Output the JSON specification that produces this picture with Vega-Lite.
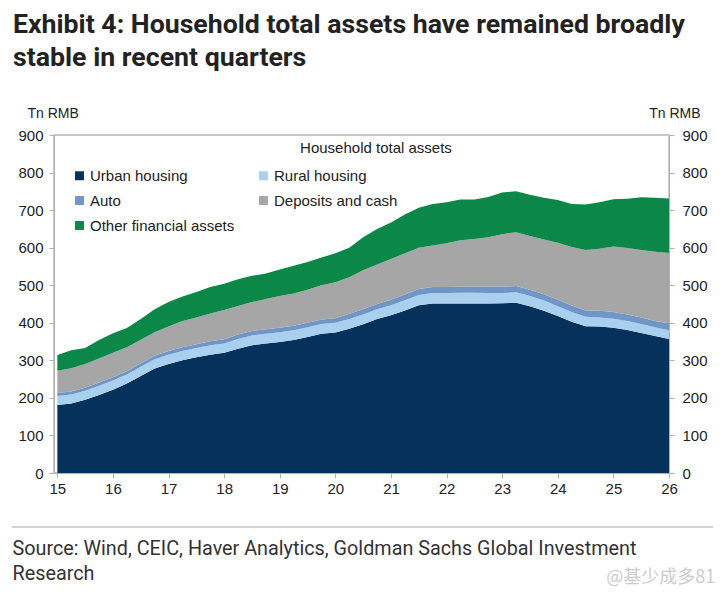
{
  "$schema": "https://vega.github.io/schema/vega-lite/v6.json",
  "width": 615,
  "height": 338,
  "autosize": {"type": "none"},
  "padding": {"left": 54, "top": 135, "right": 56, "bottom": 127},
  "background": "white",
  "title": {
    "text": ["Exhibit 4: Household total assets have remained broadly", "stable in recent quarters"],
    "anchor": "start",
    "frame": "group",
    "dx": -41,
    "offset": 34,
    "font": "Roboto",
    "fontSize": 26.7,
    "fontWeight": "bold",
    "color": "#222222",
    "lineHeight": 33
  },
  "config": {
    "font": "Liberation Sans",
    "view": {"stroke": "#b8b8b8", "strokeWidth": 1.5},
    "axis": {"grid": false, "domainColor": "#b0b0b0", "tickColor": "#b0b0b0", "labelColor": "#222222", "labelFontSize": 15, "labelFont": "Liberation Sans", "titleFont": "Liberation Sans", "titleFontWeight": "normal", "titleColor": "#222222", "titleFontSize": 14}
  },
  "layer": [
    {
      "data": {"values": [
    {"t":15.00,"s":"Urban housing","v":181},{"t":15.00,"s":"Rural housing","v":24},{"t":15.00,"s":"Auto","v":8},{"t":15.00,"s":"Deposits and cash","v":59},{"t":15.00,"s":"Other financial assets","v":42},
    {"t":15.25,"s":"Urban housing","v":185},{"t":15.25,"s":"Rural housing","v":24},{"t":15.25,"s":"Auto","v":8},{"t":15.25,"s":"Deposits and cash","v":62},{"t":15.25,"s":"Other financial assets","v":48},
    {"t":15.50,"s":"Urban housing","v":195},{"t":15.50,"s":"Rural housing","v":24},{"t":15.50,"s":"Auto","v":8},{"t":15.50,"s":"Deposits and cash","v":63},{"t":15.50,"s":"Other financial assets","v":43},
    {"t":15.75,"s":"Urban housing","v":208},{"t":15.75,"s":"Rural housing","v":24},{"t":15.75,"s":"Auto","v":9},{"t":15.75,"s":"Deposits and cash","v":64},{"t":15.75,"s":"Other financial assets","v":49},
    {"t":16.00,"s":"Urban housing","v":222},{"t":16.00,"s":"Rural housing","v":24},{"t":16.00,"s":"Auto","v":9},{"t":16.00,"s":"Deposits and cash","v":65},{"t":16.00,"s":"Other financial assets","v":52},
    {"t":16.25,"s":"Urban housing","v":238},{"t":16.25,"s":"Rural housing","v":24},{"t":16.25,"s":"Auto","v":9},{"t":16.25,"s":"Deposits and cash","v":64},{"t":16.25,"s":"Other financial assets","v":51},
    {"t":16.50,"s":"Urban housing","v":258},{"t":16.50,"s":"Rural housing","v":25},{"t":16.50,"s":"Auto","v":9},{"t":16.50,"s":"Deposits and cash","v":63},{"t":16.50,"s":"Other financial assets","v":55},
    {"t":16.75,"s":"Urban housing","v":278},{"t":16.75,"s":"Rural housing","v":25},{"t":16.75,"s":"Auto","v":9},{"t":16.75,"s":"Deposits and cash","v":63},{"t":16.75,"s":"Other financial assets","v":61},
    {"t":17.00,"s":"Urban housing","v":290},{"t":17.00,"s":"Rural housing","v":25},{"t":17.00,"s":"Auto","v":10},{"t":17.00,"s":"Deposits and cash","v":65},{"t":17.00,"s":"Other financial assets","v":65},
    {"t":17.25,"s":"Urban housing","v":300},{"t":17.25,"s":"Rural housing","v":25},{"t":17.25,"s":"Auto","v":10},{"t":17.25,"s":"Deposits and cash","v":70},{"t":17.25,"s":"Other financial assets","v":65},
    {"t":17.50,"s":"Urban housing","v":308},{"t":17.50,"s":"Rural housing","v":25},{"t":17.50,"s":"Auto","v":10},{"t":17.50,"s":"Deposits and cash","v":71},{"t":17.50,"s":"Other financial assets","v":68},
    {"t":17.75,"s":"Urban housing","v":315},{"t":17.75,"s":"Rural housing","v":25},{"t":17.75,"s":"Auto","v":11},{"t":17.75,"s":"Deposits and cash","v":74},{"t":17.75,"s":"Other financial assets","v":70},
    {"t":18.00,"s":"Urban housing","v":320},{"t":18.00,"s":"Rural housing","v":25},{"t":18.00,"s":"Auto","v":11},{"t":18.00,"s":"Deposits and cash","v":78},{"t":18.00,"s":"Other financial assets","v":70},
    {"t":18.25,"s":"Urban housing","v":331},{"t":18.25,"s":"Rural housing","v":26},{"t":18.25,"s":"Auto","v":12},{"t":18.25,"s":"Deposits and cash","v":76},{"t":18.25,"s":"Other financial assets","v":71},
    {"t":18.50,"s":"Urban housing","v":340},{"t":18.50,"s":"Rural housing","v":26},{"t":18.50,"s":"Auto","v":12},{"t":18.50,"s":"Deposits and cash","v":77},{"t":18.50,"s":"Other financial assets","v":70},
    {"t":18.75,"s":"Urban housing","v":345},{"t":18.75,"s":"Rural housing","v":26},{"t":18.75,"s":"Auto","v":12},{"t":18.75,"s":"Deposits and cash","v":80},{"t":18.75,"s":"Other financial assets","v":68},
    {"t":19.00,"s":"Urban housing","v":349},{"t":19.00,"s":"Rural housing","v":26},{"t":19.00,"s":"Auto","v":12},{"t":19.00,"s":"Deposits and cash","v":84},{"t":19.00,"s":"Other financial assets","v":71},
    {"t":19.25,"s":"Urban housing","v":354},{"t":19.25,"s":"Rural housing","v":26},{"t":19.25,"s":"Auto","v":12},{"t":19.25,"s":"Deposits and cash","v":86},{"t":19.25,"s":"Other financial assets","v":74},
    {"t":19.50,"s":"Urban housing","v":362},{"t":19.50,"s":"Rural housing","v":26},{"t":19.50,"s":"Auto","v":12},{"t":19.50,"s":"Deposits and cash","v":88},{"t":19.50,"s":"Other financial assets","v":74},
    {"t":19.75,"s":"Urban housing","v":371},{"t":19.75,"s":"Rural housing","v":26},{"t":19.75,"s":"Auto","v":12},{"t":19.75,"s":"Deposits and cash","v":91},{"t":19.75,"s":"Other financial assets","v":74},
    {"t":20.00,"s":"Urban housing","v":374},{"t":20.00,"s":"Rural housing","v":26},{"t":20.00,"s":"Auto","v":12},{"t":20.00,"s":"Deposits and cash","v":96},{"t":20.00,"s":"Other financial assets","v":77},
    {"t":20.25,"s":"Urban housing","v":384},{"t":20.25,"s":"Rural housing","v":26},{"t":20.25,"s":"Auto","v":14},{"t":20.25,"s":"Deposits and cash","v":97},{"t":20.25,"s":"Other financial assets","v":79},
    {"t":20.50,"s":"Urban housing","v":396},{"t":20.50,"s":"Rural housing","v":26},{"t":20.50,"s":"Auto","v":14},{"t":20.50,"s":"Deposits and cash","v":104},{"t":20.50,"s":"Other financial assets","v":88},
    {"t":20.75,"s":"Urban housing","v":410},{"t":20.75,"s":"Rural housing","v":26},{"t":20.75,"s":"Auto","v":14},{"t":20.75,"s":"Deposits and cash","v":105},{"t":20.75,"s":"Other financial assets","v":95},
    {"t":21.00,"s":"Urban housing","v":420},{"t":21.00,"s":"Rural housing","v":27},{"t":21.00,"s":"Auto","v":14},{"t":21.00,"s":"Deposits and cash","v":109},{"t":21.00,"s":"Other financial assets","v":97},
    {"t":21.25,"s":"Urban housing","v":433},{"t":21.25,"s":"Rural housing","v":27},{"t":21.25,"s":"Auto","v":15},{"t":21.25,"s":"Deposits and cash","v":110},{"t":21.25,"s":"Other financial assets","v":103},
    {"t":21.50,"s":"Urban housing","v":447},{"t":21.50,"s":"Rural housing","v":27},{"t":21.50,"s":"Auto","v":16},{"t":21.50,"s":"Deposits and cash","v":110},{"t":21.50,"s":"Other financial assets","v":106},
    {"t":21.75,"s":"Urban housing","v":451},{"t":21.75,"s":"Rural housing","v":28},{"t":21.75,"s":"Auto","v":16},{"t":21.75,"s":"Deposits and cash","v":111},{"t":21.75,"s":"Other financial assets","v":110},
    {"t":22.00,"s":"Urban housing","v":451},{"t":22.00,"s":"Rural housing","v":28},{"t":22.00,"s":"Auto","v":16},{"t":22.00,"s":"Deposits and cash","v":117},{"t":22.00,"s":"Other financial assets","v":109},
    {"t":22.25,"s":"Urban housing","v":451},{"t":22.25,"s":"Rural housing","v":29},{"t":22.25,"s":"Auto","v":16},{"t":22.25,"s":"Deposits and cash","v":124},{"t":22.25,"s":"Other financial assets","v":108},
    {"t":22.50,"s":"Urban housing","v":451},{"t":22.50,"s":"Rural housing","v":29},{"t":22.50,"s":"Auto","v":16},{"t":22.50,"s":"Deposits and cash","v":127},{"t":22.50,"s":"Other financial assets","v":105},
    {"t":22.75,"s":"Urban housing","v":451},{"t":22.75,"s":"Rural housing","v":28},{"t":22.75,"s":"Auto","v":17},{"t":22.75,"s":"Deposits and cash","v":132},{"t":22.75,"s":"Other financial assets","v":107},
    {"t":23.00,"s":"Urban housing","v":452},{"t":23.00,"s":"Rural housing","v":27},{"t":23.00,"s":"Auto","v":17},{"t":23.00,"s":"Deposits and cash","v":140},{"t":23.00,"s":"Other financial assets","v":111},
    {"t":23.25,"s":"Urban housing","v":453},{"t":23.25,"s":"Rural housing","v":28},{"t":23.25,"s":"Auto","v":17},{"t":23.25,"s":"Deposits and cash","v":143},{"t":23.25,"s":"Other financial assets","v":109},
    {"t":23.50,"s":"Urban housing","v":444},{"t":23.50,"s":"Rural housing","v":27},{"t":23.50,"s":"Auto","v":17},{"t":23.50,"s":"Deposits and cash","v":143},{"t":23.50,"s":"Other financial assets","v":110},
    {"t":23.75,"s":"Urban housing","v":432},{"t":23.75,"s":"Rural housing","v":27},{"t":23.75,"s":"Auto","v":17},{"t":23.75,"s":"Deposits and cash","v":146},{"t":23.75,"s":"Other financial assets","v":111},
    {"t":24.00,"s":"Urban housing","v":418},{"t":24.00,"s":"Rural housing","v":26},{"t":24.00,"s":"Auto","v":17},{"t":24.00,"s":"Deposits and cash","v":152},{"t":24.00,"s":"Other financial assets","v":114},
    {"t":24.25,"s":"Urban housing","v":403},{"t":24.25,"s":"Rural housing","v":26},{"t":24.25,"s":"Auto","v":17},{"t":24.25,"s":"Deposits and cash","v":156},{"t":24.25,"s":"Other financial assets","v":114},
    {"t":24.50,"s":"Urban housing","v":391},{"t":24.50,"s":"Rural housing","v":25},{"t":24.50,"s":"Auto","v":17},{"t":24.50,"s":"Deposits and cash","v":161},{"t":24.50,"s":"Other financial assets","v":121},
    {"t":24.75,"s":"Urban housing","v":390},{"t":24.75,"s":"Rural housing","v":24},{"t":24.75,"s":"Auto","v":18},{"t":24.75,"s":"Deposits and cash","v":165},{"t":24.75,"s":"Other financial assets","v":124},
    {"t":25.00,"s":"Urban housing","v":387},{"t":25.00,"s":"Rural housing","v":24},{"t":25.00,"s":"Auto","v":18},{"t":25.00,"s":"Deposits and cash","v":174},{"t":25.00,"s":"Other financial assets","v":126},
    {"t":25.25,"s":"Urban housing","v":381},{"t":25.25,"s":"Rural housing","v":24},{"t":25.25,"s":"Auto","v":17},{"t":25.25,"s":"Deposits and cash","v":177},{"t":25.25,"s":"Other financial assets","v":131},
    {"t":25.50,"s":"Urban housing","v":373},{"t":25.50,"s":"Rural housing","v":24},{"t":25.50,"s":"Auto","v":17},{"t":25.50,"s":"Deposits and cash","v":180},{"t":25.50,"s":"Other financial assets","v":140},
    {"t":25.75,"s":"Urban housing","v":365},{"t":25.75,"s":"Rural housing","v":23},{"t":25.75,"s":"Auto","v":17},{"t":25.75,"s":"Deposits and cash","v":184},{"t":25.75,"s":"Other financial assets","v":144},
    {"t":26.00,"s":"Urban housing","v":357},{"t":26.00,"s":"Rural housing","v":23},{"t":26.00,"s":"Auto","v":19},{"t":26.00,"s":"Deposits and cash","v":187},{"t":26.00,"s":"Other financial assets","v":145}
      ]},
      "transform": [
        {"calculate": "indexof(['Urban housing', 'Rural housing', 'Auto', 'Deposits and cash', 'Other financial assets'], datum.s)", "as": "k"}
      ],
      "mark": {"type": "area", "interpolate": "linear"},
      "encoding": {
        "x": {"field": "t", "type": "quantitative",
          "scale": {"domain": [14.94, 26], "nice": false, "zero": false},
          "axis": {"values": [15,16,17,18,19,20,21,22,23,24,25,26], "format": "d", "tickSize": 5, "labelPadding": 3, "labelFlush": false,
            "title": ["Source: Wind, CEIC, Haver Analytics, Goldman Sachs Global Investment", "Research"],
            "titleFont": "Roboto", "titleFontSize": 19.8, "titleColor": "#333333", "titleAlign": "left", "titleBaseline": "top",
            "titleX": -42, "titleY": 65, "titleLineHeight": 25}},
        "y": {"field": "v", "type": "quantitative", "stack": "zero",
          "scale": {"domain": [0, 900], "nice": false},
          "axis": {"orient": "left", "values": [0,100,200,300,400,500,600,700,800,900], "tickSize": 5, "labelPadding": 6,
            "title": "Tn RMB", "titleAngle": 0, "titleAlign": "left", "titleBaseline": "middle", "titleX": -27, "titleY": -22}},
        "order": {"field": "k", "type": "quantitative", "sort": "ascending"},
        "color": {"field": "s", "type": "nominal",
          "sort": ["Urban housing", "Rural housing", "Auto", "Deposits and cash", "Other financial assets"],
          "scale": {"domain": ["Urban housing", "Rural housing", "Auto", "Deposits and cash", "Other financial assets"],
                    "range": ["#06315a", "#a9d0ee", "#7096c8", "#a6a6a6", "#0b8747"]},
          "legend": {"orient": "none", "legendX": 18, "legendY": 33, "title": null, "columns": 2, "direction": "horizontal",
            "symbolType": "square", "symbolSize": 80, "symbolStrokeWidth": 0, "symbolOpacity": 1,
            "labelFontSize": 15, "labelColor": "#222222", "labelOffset": 3, "rowPadding": 9, "columnPadding": 21, "labelLimit": 300}}
      }
    },
    {
      "data": {"values": [{}]},
      "mark": {"type": "rule", "opacity": 0},
      "encoding": {
        "y": {"datum": 0, "type": "quantitative",
          "axis": {"orient": "right", "values": [0,100,200,300,400,500,600,700,800,900], "tickSize": 5, "labelPadding": 8,
            "title": "Tn RMB", "titleAngle": 0, "titleAlign": "right", "titleBaseline": "middle", "titleX": 31, "titleY": -22}}
      }
    },
    {
      "data": {"values": [{}]},
      "mark": {"type": "text", "align": "center", "baseline": "middle", "fontSize": 15, "color": "#222222", "clip": false},
      "encoding": {
        "x": {"datum": 20.73, "type": "quantitative"},
        "y": {"datum": 866, "type": "quantitative", "axis": null},
        "text": {"value": "Household total assets"}
      }
    },
    {
      "data": {"values": [{}]},
      "mark": {"type": "rule", "color": "#c4c4c4", "strokeWidth": 1.5, "clip": false},
      "encoding": {
        "x": {"datum": 14.185, "type": "quantitative"},
        "x2": {"datum": 26.79},
        "y": {"datum": -144, "type": "quantitative", "axis": null}
      }
    },
    {
      "data": {"values": [{}]},
      "mark": {"type": "text", "align": "right", "baseline": "middle", "fontSize": 18, "font": "Noto Sans CJK SC", "color": "#cccccc", "clip": false},
      "encoding": {
        "x": {"datum": 26.83, "type": "quantitative"},
        "y": {"datum": -279, "type": "quantitative", "axis": null},
        "text": {"value": "@基少成多81"}
      }
    }
  ],
  "resolve": {"axis": {"y": "independent"}}
}
